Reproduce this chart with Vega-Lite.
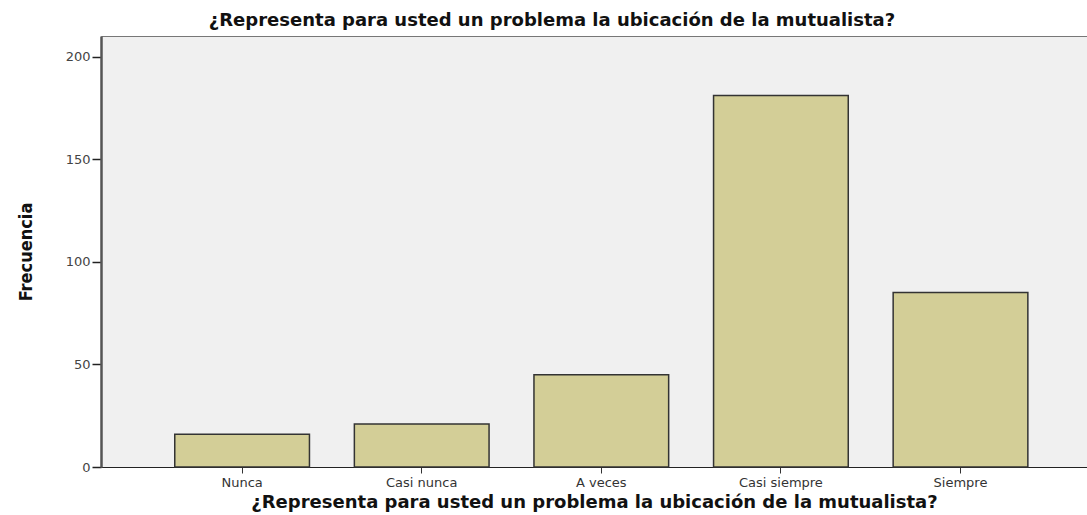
{
  "$schema": "https://vega.github.io/schema/vega-lite/v6.json",
  "autosize": "none",
  "width": 986,
  "height": 431,
  "padding": {"left": 101, "top": 36, "right": 0, "bottom": 48},
  "background": "white",
  "title": {
    "text": "¿Representa para usted un problema la ubicación de la mutualista?",
    "font": "DejaVu Sans",
    "fontSize": 18,
    "fontWeight": "bold",
    "color": "#111",
    "anchor": "middle",
    "frame": "group",
    "dx": -42,
    "offset": 6
  },
  "data": {
    "values": [
      {"respuesta": "Nunca", "frecuencia": 16},
      {"respuesta": "Casi nunca", "frecuencia": 21},
      {"respuesta": "A veces", "frecuencia": 45},
      {"respuesta": "Casi siempre", "frecuencia": 181},
      {"respuesta": "Siempre", "frecuencia": 85}
    ]
  },
  "mark": {"type": "bar", "fill": "#d3ce97", "stroke": "#333333", "strokeWidth": 1.5},
  "encoding": {
    "x": {
      "field": "respuesta",
      "type": "nominal",
      "sort": null,
      "scale": {"paddingInner": 0.25, "paddingOuter": 0.37, "align": 0.555},
      "axis": {
        "title": "¿Representa para usted un problema la ubicación de la mutualista?",
        "titleFont": "DejaVu Sans",
        "titleFontSize": 18,
        "titleFontWeight": "bold",
        "titleColor": "#111",
        "titlePadding": 4,
        "labelAngle": 0,
        "labelFont": "DejaVu Sans",
        "labelFontSize": 13,
        "labelColor": "#333",
        "labelPadding": 3,
        "tickColor": "#333",
        "tickSize": 6,
        "domainColor": "#222",
        "domainWidth": 1
      }
    },
    "y": {
      "field": "frecuencia",
      "type": "quantitative",
      "scale": {"domain": [0, 210], "nice": false},
      "axis": {
        "title": "Frecuencia",
        "titleFont": "DejaVu Sans Condensed, Roboto Condensed, Liberation Sans Narrow, Roboto, sans-serif",
        "titleFontSize": 18,
        "titleFontWeight": "bold",
        "titleColor": "#111",
        "titlePadding": 30,
        "values": [0, 50, 100, 150, 200],
        "grid": false,
        "labelFont": "DejaVu Sans",
        "labelFontSize": 13,
        "labelColor": "#444",
        "labelPadding": 2,
        "tickColor": "#222",
        "tickSize": 9,
        "tickWidth": 1.5,
        "domainColor": "#555",
        "domainWidth": 2.5
      }
    }
  },
  "config": {
    "view": {"fill": "#f0f0f0", "stroke": "#777", "strokeWidth": 1}
  }
}
